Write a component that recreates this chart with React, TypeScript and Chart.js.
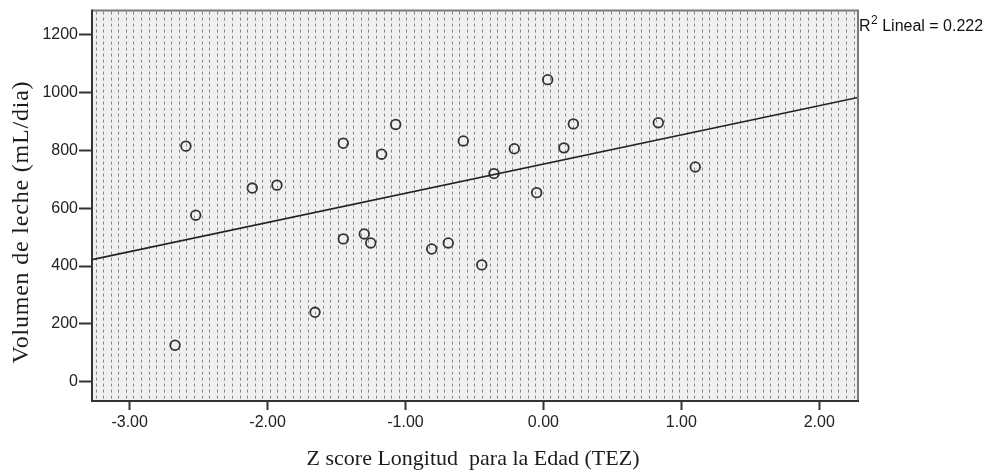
import React, { useEffect, useRef } from "react";
import { Chart, registerables } from "chart.js";

Chart.register(...registerables);

// Z score of length-for-age (TEZ) for each child
const zScores = [
  -2.671, -2.592, -2.521, -2.111, -1.932, -1.656, -1.451, -1.451, -1.299, -1.252,
  -1.173, -1.071, -0.81, -0.69, -0.447, -0.581, -0.358, -0.211, -0.049, 0.031,
  0.149, 0.217, 0.833, 1.101,
];

// Milk volume (mL/day) for each child, same order as zScores
const milkVolumes = [
  126, 815, 576, 670, 680, 240, 825, 494, 511, 480,
  787, 890, 459, 480, 404, 833, 720, 806, 654, 1045,
  809, 892, 896, 743,
];

// Linear fit of volume on z score
const fitIntercept = 753;
const fitSlope = 101;
const rSquaredText = "0.222";

const xTicks = [-3, -2, -1, 0, 1, 2];
const yTicks = [0, 200, 400, 600, 800, 1000, 1200];

const xTitle = "Z score Longitud  para la Edad (TEZ)";
const yTitle = "Volumen de leche (mL/dia)";

const X_MIN = -3.273;
const X_MAX = 2.281;
const Y_MIN = -67;
const Y_MAX = 1284;

const SANS = '"Liberation Sans", Arial, sans-serif';
const SERIF = '"Liberation Serif", "Times New Roman", serif';

const framePlugin = {
  id: "spssFrame",
  beforeDraw(chart: any) {
    const { ctx, chartArea: a } = chart;
    ctx.save();
    ctx.fillStyle = "#f0f0f0";
    ctx.fillRect(a.left, a.top, a.right - a.left, a.bottom - a.top);
    // dotted vertical fill pattern
    ctx.strokeStyle = "#858585";
    ctx.lineWidth = 1;
    ctx.setLineDash([3, 3]);
    for (let x = a.left + 3.5; x < a.right - 1; x += 7.58) {
      const px = Math.round(x) + 0.5;
      ctx.beginPath();
      ctx.moveTo(px, a.top + 1);
      ctx.lineTo(px, a.bottom - 1);
      ctx.stroke();
    }
    ctx.restore();
  },
  afterDraw(chart: any) {
    const { ctx, chartArea: a } = chart;
    ctx.save();
    // frame: lighter top/right, darker left/bottom
    ctx.lineWidth = 2;
    ctx.strokeStyle = "#7a7a7a";
    ctx.beginPath();
    ctx.moveTo(a.left, a.top);
    ctx.lineTo(a.right, a.top);
    ctx.lineTo(a.right, a.bottom);
    ctx.stroke();
    ctx.strokeStyle = "#333333";
    ctx.beginPath();
    ctx.moveTo(a.left, a.top - 1);
    ctx.lineTo(a.left, a.bottom);
    ctx.lineTo(a.right + 1, a.bottom);
    ctx.stroke();

    // fit annotation
    ctx.fillStyle = "#111";
    ctx.textBaseline = "alphabetic";
    ctx.textAlign = "left";
    let x = a.right + 1;
    ctx.font = `16px ${SANS}`;
    ctx.fillText("R", x, 31);
    x += ctx.measureText("R").width + 0.5;
    ctx.font = `12px ${SANS}`;
    ctx.fillText("2", x, 24);
    x += ctx.measureText("2").width;
    ctx.font = `16px ${SANS}`;
    ctx.fillText(` Lineal = ${rSquaredText}`, x, 31);

    // axis titles
    ctx.fillStyle = "#1c1c1c";
    ctx.font = `22px ${SERIF}`;
    ctx.textAlign = "center";
    ctx.fillText(xTitle, 473, 465);
    ctx.save();
    ctx.translate(28, 222);
    ctx.rotate(-Math.PI / 2);
    ctx.font = `24px ${SERIF}`;
    (ctx as any).letterSpacing = "0.8px";
    ctx.fillText(yTitle, 0, 0);
    ctx.restore();
    ctx.restore();
  },
};

export default function App() {
  const canvasRef = useRef<HTMLCanvasElement | null>(null);

  useEffect(() => {
    const canvas = canvasRef.current;
    if (!canvas) return;

    const points = zScores.map((z, i) => ({ x: z, y: milkVolumes[i] }));
    const fitLine = [X_MIN, X_MAX].map((z) => ({ x: z, y: fitIntercept + fitSlope * z }));

    const chart = new Chart(canvas, {
      type: "scatter",
      data: {
        datasets: [
          {
            data: fitLine,
            showLine: true,
            borderColor: "#222",
            borderWidth: 1.7,
            pointRadius: 0,
            pointHoverRadius: 0,
          },
          {
            data: points,
            pointRadius: 4.8,
            pointBorderWidth: 1.8,
            pointBorderColor: "#333",
            pointBackgroundColor: "rgba(0,0,0,0)",
            borderColor: "#333",
            backgroundColor: "rgba(0,0,0,0)",
          },
        ],
      },
      options: {
        responsive: false,
        animation: false,
        devicePixelRatio: 1,
        layout: { padding: { top: 9, right: 134, left: 0, bottom: 0 } },
        plugins: {
          legend: { display: false },
          tooltip: { enabled: false },
          title: { display: false },
        },
        scales: {
          x: {
            type: "linear",
            min: X_MIN,
            max: X_MAX,
            afterBuildTicks: (scale: any) => {
              scale.ticks = xTicks.map((value) => ({ value }));
            },
            afterFit: (scale: any) => {
              scale.height = 73;
            },
            border: { display: false },
            grid: {
              drawOnChartArea: false,
              drawTicks: true,
              tickLength: 9,
              tickWidth: 2,
              tickColor: "#333",
            },
            ticks: {
              padding: 3,
              color: "#222",
              font: { family: SANS, size: 16 },
              maxRotation: 0,
              callback: (v: any) => Number(v).toFixed(2),
            },
          },
          y: {
            type: "linear",
            min: Y_MIN,
            max: Y_MAX,
            afterBuildTicks: (scale: any) => {
              scale.ticks = yTicks.map((value) => ({ value }));
            },
            afterFit: (scale: any) => {
              scale.width = 92;
            },
            border: { display: false },
            grid: {
              drawOnChartArea: false,
              drawTicks: true,
              tickLength: 13,
              tickWidth: 2,
              tickColor: "#333",
            },
            ticks: {
              padding: 1,
              color: "#222",
              font: { family: SANS, size: 16 },
              callback: (v: any) => String(v),
            },
          },
        },
      },
      plugins: [framePlugin],
    });

    return () => chart.destroy();
  }, []);

  return (
    <div style={{ position: "fixed", left: 0, top: 0, width: 992, height: 474, background: "#fff" }}>
      <canvas ref={canvasRef} width={992} height={474} />
    </div>
  );
}
